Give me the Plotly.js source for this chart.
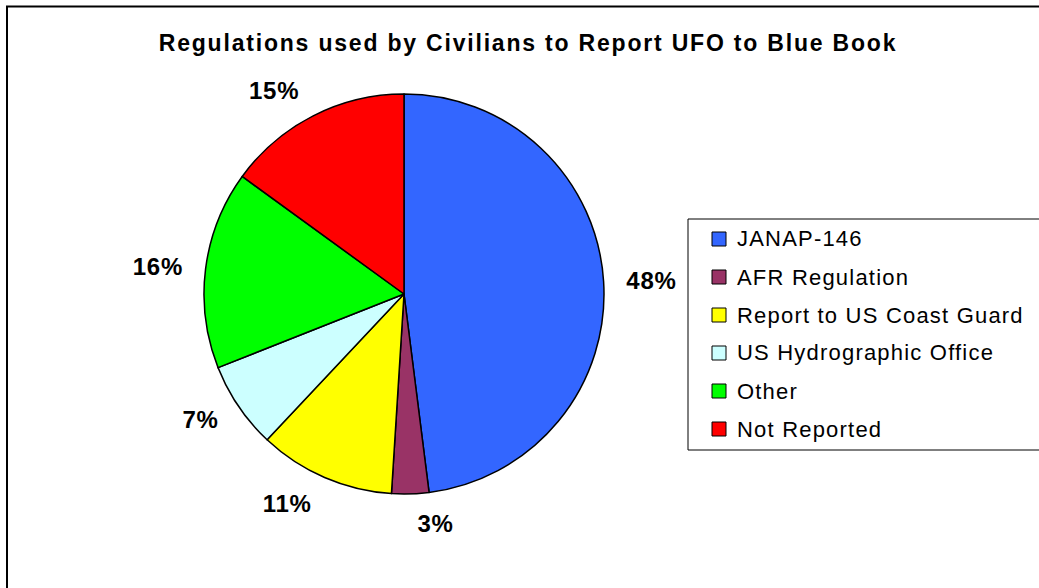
<!DOCTYPE html>
<html>
<head>
<meta charset="utf-8">
<script src="https://cdn.plot.ly/plotly-3.0.1.min.js"></script>
<style>
html,body{margin:0;padding:0;background:#fff;}
#chart{width:1039px;height:588px;}
.gtitle{letter-spacing:1.8px;}
.annotation-text{letter-spacing:1.2px;}
.slicetext{letter-spacing:0.7px;}
</style>
</head>
<body>
<div id="chart"></div>
<script>
var categories = ["JANAP-146", "AFR Regulation", "Report to US Coast Guard", "US Hydrographic Office", "Other", "Not Reported"];
var percentValues = [48, 3, 11, 7, 16, 15];
var sliceColors = ["#3366FF", "#993366", "#FFFF00", "#CCFFFF", "#00FF00", "#FF0000"];
var chartTitle = "Regulations used by Civilians to Report UFO to Blue Book";

var W = 1039, H = 588;
var FONT = "Arial, 'Liberation Sans', sans-serif";
var cx = 404, cy = 294, R = 200, Rlab = 216;

// label carrier: same data, slightly larger invisible pie so the outside labels sit further out
var labelTrace = {
  type: "pie",
  labels: categories,
  values: percentValues,
  sort: false,
  direction: "clockwise",
  rotation: 0,
  marker: {colors: categories.map(function () { return "rgba(0,0,0,0)"; }), line: {width: 0}},
  textinfo: "percent",
  texttemplate: "%{percent:.0%}",
  textposition: "outside",
  outsidetextfont: {family: FONT, size: 24, color: "#000000", weight: "bold"},
  automargin: false,
  showlegend: false,
  hoverinfo: "skip",
  domain: {x: [(cx - Rlab) / W, (cx + Rlab) / W], y: [1 - (cy + Rlab) / H, 1 - (cy - Rlab) / H]}
};

var pieTrace = {
  type: "pie",
  labels: categories,
  values: percentValues,
  sort: false,
  direction: "clockwise",
  rotation: 0,
  marker: {colors: sliceColors, line: {color: "#000000", width: 1.5}},
  textinfo: "none",
  automargin: false,
  showlegend: false,
  hoverinfo: "label+percent",
  domain: {x: [(cx - R) / W, (cx + R) / W], y: [1 - (cy + R) / H, 1 - (cy - R) / H]}
};

// legend box drawn from the category/colour arrays
var legLeft = 688, legTop = 219, legBottom = 450, legRight = 1045;
var itemY0 = 239, itemStep = 38, sw = 14, swX = 712, txtX = 736;
var shapes = [
  {type: "rect", xref: "paper", yref: "paper", x0: 7 / W, x1: 1.01, y0: -0.01, y1: 1 - 6.5 / H,
   line: {color: "#000000", width: 2}, fillcolor: "rgba(0,0,0,0)", layer: "below"},
  {type: "rect", xref: "paper", yref: "paper", x0: legLeft / W, x1: legRight / W, y0: 1 - legBottom / H, y1: 1 - legTop / H,
   line: {color: "#000000", width: 1}, fillcolor: "#FFFFFF"}
];
var annotations = [];
categories.forEach(function (c, i) {
  var yc = itemY0 + i * itemStep;
  shapes.push({type: "rect", xref: "paper", yref: "paper",
    x0: swX / W, x1: (swX + sw) / W, y0: 1 - (yc + sw / 2) / H, y1: 1 - (yc - sw / 2) / H,
    fillcolor: sliceColors[i], line: {color: "#000000", width: 1}});
  annotations.push({xref: "paper", yref: "paper", x: txtX / W, y: 1 - yc / H, xanchor: "left", yanchor: "middle",
    align: "left", borderpad: 0,
    text: c, showarrow: false, font: {family: FONT, size: 22, color: "#000000"}});
});

var layout = {
  width: W, height: H,
  margin: {l: 0, r: 0, t: 0, b: 0},
  paper_bgcolor: "#FFFFFF",
  showlegend: false,
  title: {text: chartTitle, x: 528 / W, xanchor: "center", y: 1 - 43 / H, yanchor: "middle", xref: "paper", yref: "paper",
    font: {family: FONT, size: 23, color: "#000000", weight: "bold"}},
  shapes: shapes,
  annotations: annotations
};

Plotly.newPlot("chart", [labelTrace, pieTrace], layout, {displayModeBar: false, staticPlot: true});
</script>
</body>
</html>
